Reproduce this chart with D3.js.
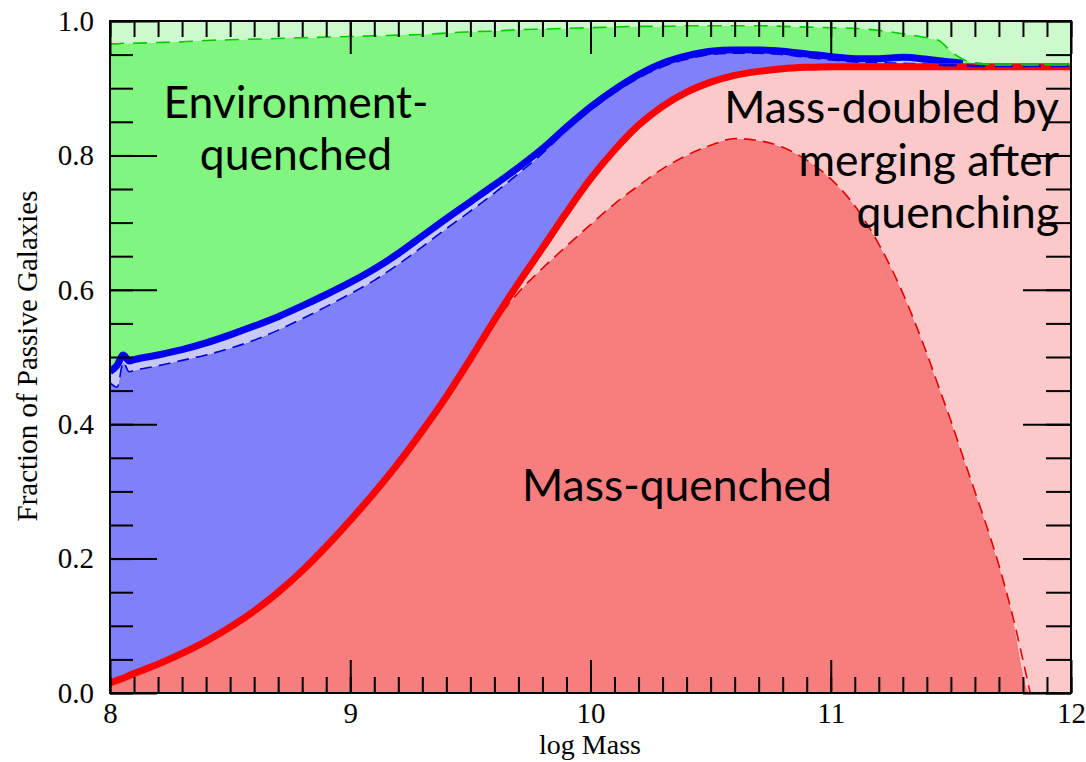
<!DOCTYPE html>
<html>
<head>
<meta charset="utf-8">
<script src="https://cdn.jsdelivr.net/npm/d3@7/dist/d3.min.js"></script>
<style>
  html, body { margin: 0; padding: 0; background: #ffffff; }
  svg { display: block; }
</style>
</head>
<body>
<svg id="chart" width="1086" height="762"></svg>
<script>
// Stellar mass grid (log M) shared by every curve
const logMass = [8.0, 8.03, 8.055, 8.08, 8.1, 8.2, 8.3, 8.4, 8.5, 8.6, 8.7, 8.8, 8.9,
  9.0, 9.1, 9.2, 9.3, 9.4, 9.5, 9.6, 9.7, 9.8, 9.9, 10.0, 10.1, 10.2, 10.3, 10.4,
  10.5, 10.6, 10.7, 10.8, 10.9, 11.0, 11.1, 11.2, 11.3, 11.4, 11.45, 11.5, 11.55,
  11.6, 11.7, 11.75, 11.83, 11.9, 12.0];

// Mass-quenched fraction, excluding later merging (dashed red)
const massQuenched = [0.015, 0.019, 0.022, 0.026, 0.029, 0.043, 0.059, 0.077, 0.098, 0.122,
  0.150, 0.182, 0.218, 0.257, 0.298, 0.342, 0.390, 0.441, 0.496, 0.551, 0.596, 0.632, 0.665,
  0.697, 0.728, 0.755, 0.780, 0.800, 0.815, 0.825, 0.822, 0.812, 0.793, 0.765, 0.725, 0.668,
  0.595, 0.505, 0.455, 0.405, 0.352, 0.300, 0.190, 0.125, 0.0, 0.0, 0.0];

// Mass-quenched fraction including mass-doubling mergers (solid red)
const massQuenchedTotal = [0.015, 0.019, 0.022, 0.026, 0.029, 0.043, 0.059, 0.077, 0.098, 0.122,
  0.150, 0.182, 0.218, 0.257, 0.298, 0.342, 0.390, 0.441, 0.497, 0.555, 0.610, 0.662, 0.715,
  0.765, 0.808, 0.845, 0.873, 0.894, 0.909, 0.919, 0.925, 0.929, 0.931, 0.932, 0.932, 0.932,
  0.932, 0.932, 0.932, 0.932, 0.932, 0.932, 0.932, 0.932, 0.932, 0.932, 0.932];

// Lower bound of the environment contribution (dashed blue)
const envLower = [0.462, 0.455, 0.492, 0.478, 0.480, 0.487, 0.495, 0.503, 0.513, 0.525,
  0.540, 0.557, 0.575, 0.594, 0.614, 0.638, 0.664, 0.691, 0.717, 0.744, 0.773, 0.803, 0.837,
  0.867, 0.893, 0.915, 0.932, 0.943, 0.950, 0.952, 0.952, 0.950, 0.946, 0.942, 0.939, 0.938,
  0.937, 0.936, 0.935, 0.934, 0.934, 0.933, 0.933, 0.933, 0.933, 0.933, 0.933];

// Mass + environment quenched fraction (solid blue)
const envQuenched = [0.478, 0.488, 0.503, 0.494, 0.496, 0.503, 0.511, 0.521, 0.533, 0.546,
  0.560, 0.576, 0.593, 0.611, 0.631, 0.654, 0.680, 0.706, 0.731, 0.756, 0.782, 0.810, 0.842,
  0.872, 0.898, 0.920, 0.937, 0.948, 0.955, 0.957, 0.957, 0.955, 0.951, 0.947, 0.944, 0.944,
  0.946, 0.943, 0.941, 0.939, 0.937, 0.935, 0.933, 0.933, 0.932, 0.932, 0.932];

// Total passive fraction (dashed green)
const totalPassive = [0.966, 0.966, 0.967, 0.967, 0.967, 0.968, 0.969, 0.971, 0.972, 0.973,
  0.974, 0.975, 0.976, 0.977, 0.978, 0.979, 0.980, 0.982, 0.984, 0.985, 0.987, 0.988, 0.989,
  0.990, 0.991, 0.992, 0.992, 0.993, 0.993, 0.993, 0.993, 0.992, 0.991, 0.990, 0.989, 0.986,
  0.981, 0.975, 0.971, 0.955, 0.943, 0.937, 0.935, 0.935, 0.935, 0.935, 0.935];

const xMajorTicks = [8, 9, 10, 11, 12];
const yMajorTicks = [0.0, 0.2, 0.4, 0.6, 0.8, 1.0];
const xTitle = "log Mass";
const yTitle = "Fraction of Passive Galaxies";

const rows = logMass.map((m, i) => ({
  m,
  mq: massQuenched[i],
  mqt: massQuenchedTotal[i],
  envLo: envLower[i],
  env: envQuenched[i],
  tot: totalPassive[i]
}));

const svg = d3.select("#chart");
const plotLeft = 110, plotRight = 1071, plotTop = 21, plotBottom = 693;

const x = d3.scaleLinear().domain([8, 12]).range([plotLeft, plotRight]);
const y = d3.scaleLinear().domain([0, 1]).range([plotBottom, plotTop]);

svg.append("defs").append("clipPath").attr("id", "plotClip")
  .append("rect").attr("x", plotLeft).attr("y", plotTop)
  .attr("width", plotRight - plotLeft).attr("height", plotBottom - plotTop);

const plot = svg.append("g").attr("clip-path", "url(#plotClip)");

const curve = d3.curveMonotoneX;
const band = (lo, hi) => d3.area().curve(curve)
  .x(d => x(d.m)).y0(lo).y1(hi);

// stacked bands, bottom to top
const layers = [
  { lo: d => y(0),        hi: d => y(d.mq),    fill: "#f67e7e" },
  { lo: d => y(d.mq),     hi: d => y(d.mqt),   fill: "#fbc9c9" },
  { lo: d => y(d.mqt),    hi: d => y(d.envLo), fill: "#8080f8" },
  { lo: d => y(d.envLo),  hi: d => y(d.env),   fill: "#c9c9f8" },
  { lo: d => y(d.env),    hi: d => y(d.tot),   fill: "#80f580" },
  { lo: d => y(d.tot),    hi: d => y(1),       fill: "#ccfacc" }
];
layers.forEach(l => {
  plot.append("path")
    .attr("d", band(l.lo, l.hi)(rows))
    .attr("fill", l.fill);
});

const line = acc => d3.line().curve(curve).x(d => x(d.m)).y(d => y(acc(d)));

// dashed red: mass-quenched only
plot.append("path")
  .attr("d", line(d => d.mq)(rows.filter(d => d.m >= 9.45 && d.m <= 11.83)))
  .attr("fill", "none").attr("stroke", "#e80000").attr("stroke-width", 1.6)
  .attr("stroke-dasharray", "12,7");

// solid blue
plot.append("path")
  .attr("d", line(d => d.env)(rows.filter(d => d.m <= 11.55)))
  .attr("fill", "none").attr("stroke", "#0000f0").attr("stroke-width", 7)
  .attr("stroke-linejoin", "round");

// dashed blue
plot.append("path")
  .attr("d", line(d => d.envLo)(rows.filter(d => d.m <= 11.55)))
  .attr("fill", "none").attr("stroke", "#0000e0").attr("stroke-width", 1.6)
  .attr("stroke-dasharray", "12,7");

// solid red
plot.append("path")
  .attr("d", line(d => d.mqt)(rows))
  .attr("fill", "none").attr("stroke", "#ff0000").attr("stroke-width", 7)
  .attr("stroke-linejoin", "round");

// dashed blue along the high-mass plateau
plot.append("path")
  .attr("d", line(d => d.envLo)(rows.filter(d => d.m >= 11.45)))
  .attr("fill", "none").attr("stroke", "#0000e0").attr("stroke-width", 2.5)
  .attr("stroke-dasharray", "18,10");

// dashed green: total passive fraction
plot.append("path")
  .attr("d", line(d => d.tot)(rows))
  .attr("fill", "none").attr("stroke", "#00cc00").attr("stroke-width", 1.6)
  .attr("stroke-dasharray", "14,9");
plot.append("path")
  .attr("d", line(d => d.tot)(rows.filter(d => d.m >= 11.6)))
  .attr("fill", "none").attr("stroke", "#22aa22").attr("stroke-width", 2.5)
  .attr("stroke-dasharray", "16,12").attr("stroke-dashoffset", 8);

// ---- axes: inward ticks on all four sides ----
const xMinor = d3.range(80, 121).map(v => v / 10);
const yMinor = d3.range(0, 21).map(v => v / 20);

function styleAxis(g) {
  g.select(".domain").remove();
  g.selectAll(".tick line").attr("stroke", "#000").attr("stroke-width", 2);
}
function tickLabels(g) {
  g.selectAll(".tick text").attr("font-family", "'Liberation Serif', 'Times New Roman', serif")
    .attr("font-size", 29).attr("fill", "#000");
}

svg.append("g").attr("transform", `translate(0,${plotBottom})`)
  .call(d3.axisBottom(x).tickValues(xMinor).tickSize(-16).tickFormat(""))
  .call(styleAxis);
svg.append("g").attr("transform", `translate(0,${plotBottom})`)
  .call(d3.axisBottom(x).tickValues(xMajorTicks).tickSize(-33).tickPadding(9).tickFormat(d3.format("d")))
  .call(styleAxis).call(tickLabels);
svg.append("g").attr("transform", `translate(0,${plotTop})`)
  .call(d3.axisTop(x).tickValues(xMinor).tickSize(-16).tickFormat(""))
  .call(styleAxis);
svg.append("g").attr("transform", `translate(0,${plotTop})`)
  .call(d3.axisTop(x).tickValues(xMajorTicks).tickSize(-33).tickFormat(""))
  .call(styleAxis);

svg.append("g").attr("transform", `translate(${plotLeft},0)`)
  .call(d3.axisLeft(y).tickValues(yMinor).tickSize(-23).tickFormat(""))
  .call(styleAxis);
svg.append("g").attr("transform", `translate(${plotLeft},0)`)
  .call(d3.axisLeft(y).tickValues(yMajorTicks).tickSize(-47).tickPadding(16).tickFormat(d3.format(".1f")))
  .call(styleAxis).call(tickLabels);
svg.append("g").attr("transform", `translate(${plotRight},0)`)
  .call(d3.axisRight(y).tickValues(yMinor).tickSize(-25).tickFormat(""))
  .call(styleAxis);
svg.append("g").attr("transform", `translate(${plotRight},0)`)
  .call(d3.axisRight(y).tickValues(yMajorTicks).tickSize(-48).tickFormat(""))
  .call(styleAxis);

// frame
svg.append("rect").attr("x", plotLeft).attr("y", plotTop)
  .attr("width", plotRight - plotLeft).attr("height", plotBottom - plotTop)
  .attr("fill", "none").attr("stroke", "#000").attr("stroke-width", 2);

// axis titles
svg.append("text").attr("x", 590).attr("y", 754)
  .attr("text-anchor", "middle")
  .attr("font-family", "'Liberation Serif', 'Times New Roman', serif")
  .attr("font-size", 28).text(xTitle);
svg.append("text")
  .attr("transform", "translate(37,356) rotate(-90)")
  .attr("text-anchor", "middle")
  .attr("font-family", "'Liberation Serif', 'Times New Roman', serif")
  .attr("font-size", 29).text(yTitle);

// region annotations
const annoFont = "Lato, 'Open Sans', sans-serif";
const annotations = [
  { t: "Environment-", x: 296, y: 118, a: "middle" },
  { t: "quenched", x: 296, y: 170, a: "middle" },
  { t: "Mass-doubled by", x: 1059, y: 123, a: "end" },
  { t: "merging after", x: 1059, y: 176, a: "end" },
  { t: "quenching", x: 1059, y: 228, a: "end" },
  { t: "Mass-quenched", x: 677, y: 501, a: "middle" }
];
const annoSel = svg.append("g").selectAll("text").data(annotations).join("text")
  .attr("x", d => d.x).attr("y", d => d.y).attr("text-anchor", d => d.a)
  .attr("font-family", annoFont).attr("font-size", 44).attr("fill", "#000")
  .text(d => d.t);
// size the annotation font so "Mass-quenched" spans ~310px
const ref = annoSel.filter(d => d.t === "Mass-quenched").node();
const w = ref.getComputedTextLength();
annoSel.attr("font-size", 44 * 310 / w);
</script>
</body>
</html>
